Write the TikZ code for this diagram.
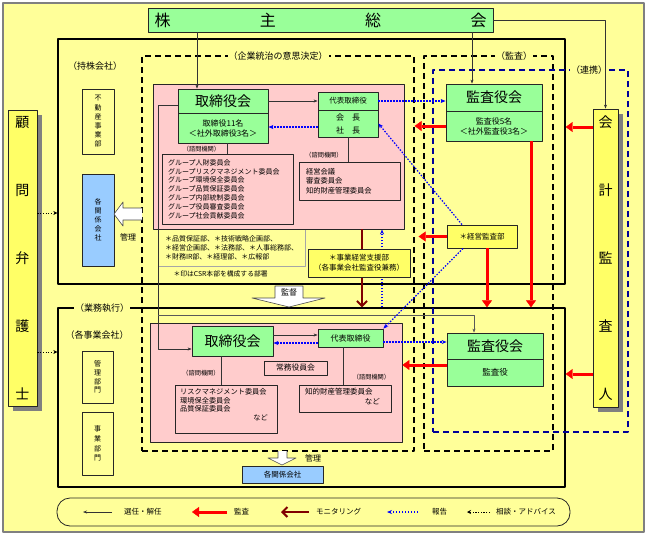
\documentclass[tikz,border=0pt]{standalone}
\usepackage{fontspec}
\setmainfont{Noto Sans CJK JP}
\usetikzlibrary{arrows.meta,shadows}
\newcommand\fs[2]{\fontsize{#1}{#2}\selectfont}
\definecolor{bgyel}{HTML}{FFFF99}
\definecolor{boxyel}{HTML}{FFFF66}
\definecolor{grn}{HTML}{99FF99}
\definecolor{pnk}{HTML}{FFCCCC}
\definecolor{lblue}{HTML}{99CCFF}
\definecolor{dred}{HTML}{800000}
\definecolor{dblue}{HTML}{000099}
\begin{document}
\begin{tikzpicture}[x=1pt, y=-1pt, line join=round, font=\fs{7}{8.5},
  sz/.style 2 args={minimum width=#1pt, minimum height=#2pt},
  box/.style={draw=black!85, line width=0.8pt, inner sep=0pt},
  grbox/.style={box, fill=grn},
  ylbox/.style={box, fill=boxyel},
  pkbox/.style={box, fill=pnk},
  bubox/.style={box, fill=lblue},
  frame/.style={draw=black, line width=1.3pt, inner sep=0pt},
  dframe/.style={draw=black, line width=1.2pt, dash pattern=on 6pt off 4pt, inner sep=0pt},
  grp/.style={fill=bgyel, inner xsep=1pt, inner ysep=1pt, font=\fs{9}{10}},
  shimon/.style={font=\fs{6.2}{7}, inner sep=0pt},
  big/.style={font=\fs{14}{16}},
  shade/.style={drop shadow={shadow xshift=5pt, shadow yshift=-5pt, fill=black!50, opacity=1}},
  selarr/.style={draw=black!80, line width=0.6pt, -{Stealth[length=4pt,width=3pt]}},
  kansaarr/.style={draw=red, line width=3pt, -{Triangle[length=7pt,width=10pt,line width=0.4pt]}},
  monarr/.style={draw=dred, line width=2pt, -{Straight Barb[length=5pt,width=10pt]}},
  repoarr/.style={draw=blue, line width=1.2pt, dash pattern=on 1.5pt off 1.5pt, -{Stealth[length=5pt,width=4pt]}},
  advarr/.style={draw=black, line width=0.8pt, dash pattern=on 1.2pt off 1.5pt, -{Stealth[length=4pt,width=4pt]}},
  lgtext/.style={anchor=west, font=\fs{7.5}{9}, inner sep=0pt}]
  \useasboundingbox (0,0) rectangle (648,536);
  \fill[white] (0,0) rectangle (648,536);
  \draw[draw=gray, line width=1.5pt, fill=bgyel] (3,3) rectangle (644,532);

  % groups
  \node[frame, sz={507}{245}] (hold) at (311.5,161.5) {};
  \node[frame, sz={507}{179}] (gyomu) at (311.5,397.5) {};
  \node[dframe, sz={272}{395}] (kigyo) at (278,253.5) {};
  \node[dframe, sz={129}{395}] (kansa) at (488.5,253.5) {};
  \node[dframe, draw=dblue, sz={195}{362}] (renkei) at (530.5,251) {};
  \node[grp] at (278,56) {（企業統治の意思決定）};
  \node[grp] at (514,56) {（監査）};
  \node[grp] at (589,70) {（連携）};
  \node[grp] at (102,308) {（業務執行）};
  \node[grp, fill=none] at (95,66) {（持株会社）};
  \node[grp, fill=none] at (97,335) {（各事業会社）};

  % outside parties
  \node[grbox, sz={345}{24}, font=\fs{16}{18}] (kabu) at (320.5,20) {\makebox[332pt]{株\hfill{}主\hfill{}総\hfill{}会}};
  \node[ylbox, shade, sz={29}{296}, font=\fs{14}{68}, align=center] (bengo) at (22.5,258) {顧\\問\\弁\\護\\士};
  \node[ylbox, shade, sz={25}{298}, font=\fs{14}{68}, align=center] (kaikei) at (605.5,258) {会\\計\\監\\査\\人};

  % holding company
  \node[box, fill=bgyel, sz={32}{65}, font=\fs{7}{9.2}, align=center] (fudo) at (98,121.5) {不\\動\\産\\事\\業\\部};
  \node[bubox, sz={32}{92}, font=\fs{7}{9}, align=center] (kankei1) at (98,220) {各\\関\\係\\会\\社};
  \filldraw[fill=white, draw=black!70, line width=0.6pt] (142,208) -- (123,208) -- (123,202) -- (114,214) -- (123,226) -- (123,220) -- (142,220);
  \node[font=\fs{8}{9}] at (128,237) {管理};
  \node[box, draw=black!35, sz={147}{37}, align=left, text width=133pt, inner xsep=7pt, font=\fs{7}{9}] (dept) at (231.5,247.5)
    {＊品質保証部、＊技術戦略企画部、\\＊経営企画部、＊法務部、＊人事総務部、\\＊財務IR部、＊経理部、＊広報部};
  \node[anchor=west, font=\fs{6.8}{8}] at (170,274) {＊印はCSR本部を構成する部署};
  \node[pkbox, sz={251}{145}] (pink1) at (278.5,156.5) {};
  \node[grbox, big, sz={90}{24}] (tori1h) at (223,101) {取締役会};
  \node[grbox, sz={90}{30}, align=center, font=\fs{8}{10}] (tori1b) at (223,128) {取締役11名\\＜社外取締役3名＞};
  \node[grbox, sz={60}{18}, font=\fs{7.5}{9}] (daihyo1h) at (348,101) {代表取締役};
  \node[grbox, sz={60}{27}, align=center, font=\fs{8}{13}] (daihyo1b) at (348,123.5) {会　長\\社　長};
  \node[shimon] at (201.5,149) {（諮問機関）};
  \node[pkbox, sz={131}{70}, align=left, text width=119pt, inner xsep=6pt, font=\fs{7}{8.8}] (iin1) at (227.5,189)
    {グループ人財委員会\\グループリスクマネジメント委員会\\グループ環境保全委員会\\グループ品質保証委員会\\グループ内部統制委員会\\グループ役員審査委員会\\グループ社会貢献委員会};
  \node[shimon] at (324,155) {（諮問機関）};
  \node[pkbox, sz={101}{38}, align=left, text width=87pt, inner xsep=7pt, font=\fs{7.3}{9.5}] (iin2) at (349.5,181)
    {経営会議\\審査委員会\\知的財産管理委員会};
  \node[grbox, big, sz={96}{27}] (kansa1h) at (494,97.5) {監査役会};
  \node[grbox, sz={96}{30}, align=center, font=\fs{8}{10}] (kansa1b) at (494,126) {監査役5名\\＜社外監査役3名＞};
  \node[ylbox, sz={70}{23}, font=\fs{7.5}{9}] (keiei) at (482,236.5) {＊経営監査部};

  % kantoku arrow
  \filldraw[fill=white, draw=black!70, line width=0.6pt] (275,286) -- (303,286) -- (303,298) -- (325,298) -- (289,307) -- (252,298) -- (275,298) -- cycle;
  \node[font=\fs{8}{9}] at (289,292) {監督};

  % operating companies
  \node[box, fill=bgyel, sz={31}{52}, font=\fs{7}{8.7}, align=center] (kanri) at (97.5,377) {管\\理\\部\\門};
  \node[box, fill=bgyel, sz={31}{63}, font=\fs{7}{9.7}, align=center] (jigyo) at (97.5,443.5) {事\\業\\部\\門};
  \node[pkbox, sz={252}{119}] (pink2) at (276,382.5) {};
  \node[grbox, big, sz={81}{30}] (tori2) at (232.5,341) {取締役会};
  \node[grbox, sz={65}{18}, font=\fs{8}{9}] (daihyo2) at (350.5,338) {代表取締役};
  \node[pkbox, sz={63}{14}, font=\fs{7.8}{9}] (jomu) at (295.5,368) {常務役員会};
  \node[shimon] at (201,373) {（諮問機関）};
  \node[pkbox, sz={102}{48}] (iin3) at (226,409) {};
  \node[anchor=west, align=left, font=\fs{7.2}{8.7}, inner sep=0pt] at (180,400.5) {リスクマネジメント委員会\\環境保全委員会\\品質保証委員会};
  \node[anchor=east, font=\fs{7.2}{8.7}, inner sep=0pt] at (268,418) {など};
  \node[shimon] at (371.5,377) {（諮問機関）};
  \node[pkbox, sz={92}{27}] (iin4) at (345,398.5) {};
  \node[anchor=west, font=\fs{7.5}{9}, inner sep=0pt] at (305,392) {知的財産管理委員会};
  \node[anchor=east, font=\fs{7.5}{9}, inner sep=0pt] at (380,402) {など};
  \node[grbox, big, sz={96}{26}] (kansa2h) at (495,346) {監査役会};
  \node[grbox, sz={96}{27}, font=\fs{8.5}{10}] (kansa2b) at (495,372.5) {監査役};
  \filldraw[fill=white, draw=black!70, line width=0.6pt] (278,451) -- (278,458) -- (268,458) -- (282,465) -- (296,458) -- (287,458) -- (287,451);
  \node[font=\fs{8}{9}] at (313,458) {管理};
  \node[bubox, sz={81}{17}, font=\fs{7.5}{9}] (kankei2) at (282.5,474.5) {各関係会社};

  % selection lines
  \draw[selarr] (197,0 |- kabu.south) -- (197,0 |- tori1h.north);
  \draw[selarr] (472,0 |- kabu.south) -- (472,0 |- kansa1h.north);
  \draw[selarr] (kabu.east) -| (kaikei.north);
  \draw[selarr] (tori1h.east) -- (tori1h.east -| daihyo1h.west);
  \draw[selarr] (tori1h.west |- 0,105) -- (158,105) -- (158,349) -- (tori2.west |- 0,349);
  \draw[selarr, draw=black!65] (158,315) -| (474,0 |- kansa2h.north);
  \draw[selarr] (tori2.east |- 0,335) -- (daihyo2.west |- 0,335);
  \draw[draw=black!80, line width=0.6pt] (227,0 |- tori1b.south) -- (227,0 |- iin1.north);
  \draw[draw=black!80, line width=0.6pt] (348,0 |- daihyo1b.south) -- (348,0 |- iin2.north);
  \draw[draw=black!80, line width=0.6pt] (221,0 |- tori2.south) -- (221,0 |- iin3.north);
  \draw[draw=black!80, line width=0.6pt] (343,0 |- daihyo2.south) -- (343,0 |- iin4.north);

  % audit
  \draw[kansaarr] (kansa1b.west) -- (kigyo.east |- kansa1b.west);
  \draw[kansaarr] (kaikei.west |- 0,127) -- (hold.east |- 0,127);
  \draw[kansaarr] (keiei.west) -- ([xshift=4pt]kigyo.east |- keiei.west);
  \draw[kansaarr] (487,0 |- keiei.south) -- (487,0 |- gyomu.north);
  \draw[kansaarr] (531,0 |- kansa1b.south) -- (531,0 |- gyomu.north);
  \draw[kansaarr] (kansa2b.west |- 0,365) -- (pink2.east |- 0,365);
  \draw[kansaarr] (kaikei.west |- 0,374) -- (gyomu.east |- 0,374);

  % monitoring and reports
  \draw[monarr] (362,0 |- pink1.south) -- (362,0 |- gyomu.north);
  \draw[repoarr] (382,0 |- gyomu.north) -- (382,0 |- pink1.south);
  \draw[repoarr] (daihyo1b.west |- 0,127) -- (tori1b.east |- 0,127);
  \draw[repoarr] (daihyo1h.east) -- (daihyo1h.east -| kansa1h.west);
  \draw[repoarr] (keiei.north -| 462,0) -- (daihyo1b.east);
  \draw[repoarr] (keiei.south -| 463,0) -- (daihyo2.north east);
  \draw[repoarr] (daihyo2.west |- 0,343) -- (tori2.east |- 0,343);
  \draw[repoarr] (daihyo2.east |- 0,342) -- (kansa2h.west |- 0,342);
  \node[ylbox, sz={102}{28}, align=center, font=\fs{7.5}{10}] (shien) at (359,263) {＊事業経営支援部\\（各事業会社監査役兼務）};

  % advice
  \draw[advarr] (bengo.east |- 0,213) -- (hold.west |- 0,213);
  \draw[advarr] (bengo.east |- 0,352) -- (gyomu.west |- 0,352);

  % legend
  \node[box, rounded corners=13pt, sz={513}{28}] (legend) at (313.5,512) {};
  \node[lgtext] (lg1) at (124,512) {選任・解任};
  \draw[selarr] ([xshift=-12pt]lg1.west) -- ++(-29,0);
  \node[lgtext] (lg2) at (234,512) {監査};
  \draw[kansaarr] ([xshift=-7pt]lg2.west) -- ++(-35,0);
  \node[lgtext] (lg3) at (316,512) {モニタリング};
  \draw[monarr] ([xshift=-7pt]lg3.west) -- ++(-28,0);
  \node[lgtext] (lg4) at (432,512) {報告};
  \draw[repoarr] ([xshift=-14pt]lg4.west) -- ++(-31,0);
  \node[lgtext] (lg5) at (496,512) {相談・アドバイス};
  \draw[advarr] ([xshift=-6pt]lg5.west) -- ++(-23,0);
\end{tikzpicture}
\end{document}
